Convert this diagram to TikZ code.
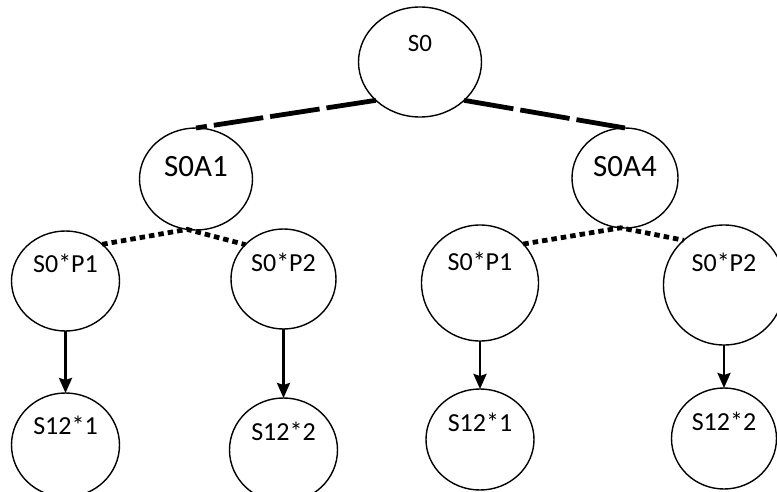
\documentclass[tikz,border=0pt]{standalone}
\usepackage{fontspec}
\setmainfont{Carlito}
\usetikzlibrary{arrows.meta,positioning,shapes.geometric}
\tikzset{
  state/.style={draw, ellipse, line width=1.4pt, inner sep=0pt, outer sep=0pt,
    text height=0pt, font=\fontsize{26}{26}\selectfont},
  act/.style={state, font=\fontsize{31}{31}\selectfont},
  choice/.style={line width=4.8pt, dash pattern=on 50pt off 7pt},
  chance/.style={line width=4.8pt, dash pattern=on 5.5pt off 4pt},
  result/.style={line width=2.4pt, -{Stealth[length=15pt,width=13pt,inset=2pt]}}
}

\begin{document}
\begin{tikzpicture}[x=1pt, y=-1pt]
  \useasboundingbox (0,0) rectangle (777,492);
  \node[state, minimum width=123pt, minimum height=110pt, text depth=20pt,
    font=\fontsize{25}{25}\selectfont] (s0) at (420,62) {S0};
  \node[act, minimum width=113pt, minimum height=102pt, text depth=4pt] (s0a1) at (196,179) {S0A1};
  \node[act, minimum width=106pt, minimum height=100pt, text depth=3pt] (s0a4) at (625,178) {S0A4};

  \node[state, minimum width=108pt, minimum height=100pt, text depth=18pt] (p1a) at (65.5,281) {S0*P1};
  \node[state, minimum width=105pt, minimum height=100pt, text depth=15pt] (p2a) at (283.5,279) {S0*P2};
  \node[state, minimum width=117pt, minimum height=116pt, text depth=25pt] (p1b) at (480,283) {S0*P1};
  \node[state, minimum width=121pt, minimum height=120pt, text depth=27pt] (p2b) at (724,285) {S0*P2};

  \node[state, minimum width=108pt, minimum height=104pt, text depth=21pt, below=62pt of p1a] (r1a) {S12*1};
  \node[state, minimum width=108pt, minimum height=104pt, text depth=20pt, below=69pt of p2a] (r2a) {S12*2};
  \node[state, minimum width=108pt, minimum height=101pt, text depth=17pt, below=48pt of p1b] (r1b) {S12*1};
  \node[state, minimum width=105pt, minimum height=101pt, text depth=16pt, below=43pt of p2b] (r2b) {S12*2};

  \draw[choice] (s0.221) -- (s0a1.north);
  \draw[choice] (s0.319) -- (s0a4.north);
  \draw[chance] (p1a.45) -- (s0a1.260) -- (p2a.138);
  \draw[chance] (p1b.42) -- (s0a4.265) -- (p2b.132);

  \draw[result] (p1a.south) -- (r1a.north);
  \draw[result] (p2a.south) -- (r2a.north);
  \draw[result] (p1b.south) -- (r1b.north);
  \draw[result] (p2b.south) -- (r2b.north);
\end{tikzpicture}
\end{document}
